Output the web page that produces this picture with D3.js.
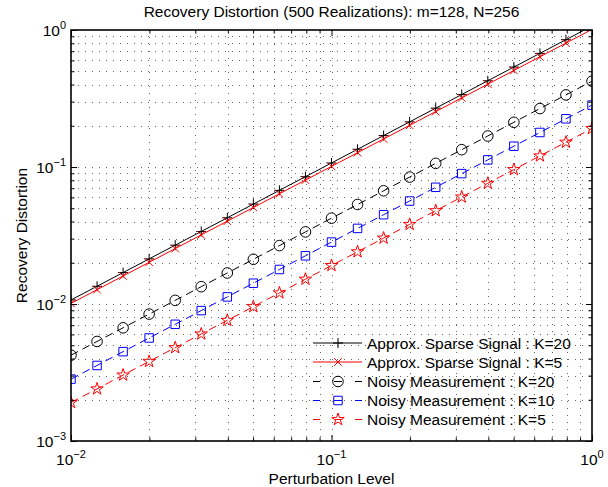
<!DOCTYPE html>
<html><head><meta charset="utf-8">
<script src="https://cdn.jsdelivr.net/npm/d3@7"></script>
<style>
body{margin:0;background:#fff;}
text{font-family:"Liberation Sans",Arial,Helvetica,sans-serif;fill:#000;}
</style></head>
<body><svg id="c" width="608" height="487"></svg>
<script>
// ---- data ----
const perturbation = [0.0100,0.01259,0.01585,0.01995,0.02512,0.03162,0.03981,0.05012,0.06310,0.07943,
  0.1000,0.1259,0.1585,0.1995,0.2512,0.3162,0.3981,0.5012,0.6310,0.7943,1.000];
const approxK20 = [0.0107,0.01347,0.01696,0.02135,0.02688,0.03383,0.0426,0.05363,0.06752,0.08499,
  0.107,0.1347,0.1696,0.2135,0.2688,0.3383,0.426,0.5363,0.6752,0.8499,1.07];
const approxK5 = [0.0101,0.01272,0.01601,0.02015,0.02537,0.03194,0.04021,0.05062,0.06373,0.08022,
  0.101,0.1272,0.1601,0.2015,0.2537,0.3194,0.4021,0.5062,0.6373,0.8022,1.01];
const noisyK20 = [0.00423,0.00533,0.00670,0.00844,0.01063,0.01338,0.01684,0.0212,0.02669,0.0336,
  0.0423,0.05326,0.06705,0.08439,0.1063,0.1338,0.1684,0.2120,0.2669,0.336,0.423];
const noisyK10 = [0.00283,0.00356,0.00449,0.00565,0.00711,0.00895,0.01127,0.01418,0.01786,0.02248,
  0.0283,0.03563,0.04486,0.05646,0.07109,0.08948,0.1127,0.1418,0.1786,0.2248,0.283];
const noisyK5 = [0.00191,0.0024,0.00303,0.00381,0.0048,0.00604,0.0076,0.00957,0.01205,0.01517,
  0.0191,0.02405,0.03027,0.03811,0.04798,0.0604,0.07604,0.09573,0.1205,0.1517,0.191];
const seriesNames = ["Approx. Sparse Signal : K=20","Approx. Sparse Signal : K=5",
  "Noisy Measurement : K=20","Noisy Measurement : K=10","Noisy Measurement : K=5"];
const xTickValues = [0.01, 0.1, 1];
const xTickExponents = ["\u22122","\u22121","0"];
const yTickValues = [0.001, 0.01, 0.1, 1];
const yTickExponents = ["\u22123","\u22122","\u22121","0"];
const titleText = "Recovery Distortion (500 Realizations): m=128, N=256";
const xLabelText = "Perturbation Level";
const yLabelText = "Recovery Distortion";

// ---- layout ----
const L = 71, R = 592, T = 30, B = 441;
const svg = d3.select("#c");
const x = d3.scaleLog().domain([0.01, 1]).range([L, R]);
const y = d3.scaleLog().domain([0.001, 1]).range([B, T]);

const series = [
  {name: seriesNames[0], values: approxK20, color: "#000", dash: null, marker: "plus"},
  {name: seriesNames[1], values: approxK5, color: "#f00", dash: null, marker: "x"},
  {name: seriesNames[2], values: noisyK20, color: "#000", dash: "8,5", marker: "circle"},
  {name: seriesNames[3], values: noisyK10, color: "#00f", dash: "8,5", marker: "square"},
  {name: seriesNames[4], values: noisyK5, color: "#f00", dash: "8,5", marker: "star"}
];

svg.append("rect").attr("x",0).attr("y",0).attr("width",608).attr("height",487).attr("fill","#fff");
svg.append("defs").append("clipPath").attr("id","clip")
  .append("rect").attr("x",L).attr("y",T).attr("width",R-L).attr("height",B-T);

// ---- grid ----
const xGrid = x.ticks().filter(v => v > 0.01 && v < 1);
const yGrid = y.ticks().filter(v => v > 0.001 && v < 1);
const grid = svg.append("g").attr("stroke","#666").attr("stroke-width",1).attr("stroke-dasharray","1,6");
grid.selectAll(".gx").data(xGrid).join("line")
  .attr("x1", d => Math.round(x(d))+0.5).attr("x2", d => Math.round(x(d))+0.5)
  .attr("y1", T).attr("y2", B);
grid.selectAll(".gy").data(yGrid).join("line")
  .attr("y1", d => Math.round(y(d))+0.5).attr("y2", d => Math.round(y(d))+0.5)
  .attr("x1", L).attr("x2", R);

// ---- markers ----
function markerPath(type){
  switch(type){
    case "plus": { const a = 5; return `M${-a},0H${a}M0,${-a}V${a}`; }
    case "x": { const a = 3.8; return `M${-a},${-a}L${a},${a}M${-a},${a}L${a},${-a}`; }
    case "circle": return d3.symbol(d3.symbolCircle, 88)();
    case "square": return d3.symbol(d3.symbolSquare, 72)();
    case "star": return d3.symbol(d3.symbolStar, 48)();
  }
}

// ---- lines ----
const plot = svg.append("g").attr("clip-path","url(#clip)");
const line = d3.line().x((d,i) => x(perturbation[i])).y(d => y(d));
series.forEach(s => {
  plot.append("path").datum(s.values).attr("d", line)
    .attr("fill","none").attr("stroke", s.color).attr("stroke-width",1)
    .attr("stroke-dasharray", s.dash);
  plot.append("g").selectAll("path").data(s.values.map((v,i)=>[perturbation[i], v]).filter(d => d[1] <= 1))
    .join("path")
    .attr("transform", d => `translate(${x(d[0])},${y(d[1])})`)
    .attr("d", markerPath(s.marker))
    .attr("fill","none").attr("stroke", s.color).attr("stroke-width",1);
});

// ---- axes (ticks inward on all sides) ----
const xMinor = x.ticks().filter(v => !xTickValues.includes(v));
const yMinor = y.ticks().filter(v => !yTickValues.includes(v));
function styleAxis(g){
  g.select(".domain").remove();
  g.selectAll(".tick line").attr("stroke","#000").attr("stroke-width",1);
  g.selectAll(".tick text").remove();
}
svg.append("g").attr("transform",`translate(0,${B})`).call(d3.axisBottom(x).tickValues(xTickValues).tickSize(-6).tickFormat("")).call(styleAxis);
svg.append("g").attr("transform",`translate(0,${B})`).call(d3.axisBottom(x).tickValues(xMinor).tickSize(-3.5).tickFormat("")).call(styleAxis);
svg.append("g").attr("transform",`translate(0,${T})`).call(d3.axisTop(x).tickValues(xTickValues).tickSize(-6).tickFormat("")).call(styleAxis);
svg.append("g").attr("transform",`translate(0,${T})`).call(d3.axisTop(x).tickValues(xMinor).tickSize(-3.5).tickFormat("")).call(styleAxis);
svg.append("g").attr("transform",`translate(${L},0)`).call(d3.axisLeft(y).tickValues(yTickValues).tickSize(-6).tickFormat("")).call(styleAxis);
svg.append("g").attr("transform",`translate(${L},0)`).call(d3.axisLeft(y).tickValues(yMinor).tickSize(-3.5).tickFormat("")).call(styleAxis);
svg.append("g").attr("transform",`translate(${R},0)`).call(d3.axisRight(y).tickValues(yTickValues).tickSize(-6).tickFormat("")).call(styleAxis);
svg.append("g").attr("transform",`translate(${R},0)`).call(d3.axisRight(y).tickValues(yMinor).tickSize(-3.5).tickFormat("")).call(styleAxis);

svg.append("rect").attr("x",L).attr("y",T).attr("width",R-L).attr("height",B-T)
  .attr("fill","none").attr("stroke","#000").attr("stroke-width",1.6);

// ---- tick labels ----
const FS = 15.5;
xTickValues.forEach((v,i) => {
  const t = svg.append("text").attr("x", x(v)).attr("y", 465).attr("text-anchor","middle").attr("font-size",FS);
  t.append("tspan").text("10");
  t.append("tspan").attr("dy",-7).attr("font-size",11).text(xTickExponents[i]);
});
yTickValues.forEach((v,i) => {
  const t = svg.append("text").attr("x", 66).attr("y", y(v)+5.5).attr("text-anchor","end").attr("font-size",FS);
  t.append("tspan").text("10");
  t.append("tspan").attr("dy",-7).attr("font-size",11).text(yTickExponents[i]);
});

// ---- titles ----
svg.append("text").attr("x",(L+R)/2).attr("y",17).attr("text-anchor","middle").attr("font-size",FS).text(titleText);
svg.append("text").attr("x",(L+R)/2).attr("y",484).attr("text-anchor","middle").attr("font-size",FS).text(xLabelText);
svg.append("text").attr("transform",`translate(27,${(T+B)/2}) rotate(-90)`).attr("text-anchor","middle").attr("font-size",FS).text(yLabelText);

// ---- legend ----
const legY = [343, 362, 381.5, 400.5, 419.5];
const lx0 = 313, lx1 = 362, lxm = 338, ltx = 367;
series.forEach((s,i) => {
  const g = svg.append("g");
  g.append("line").attr("x1",lx0).attr("x2",lx1).attr("y1",legY[i]).attr("y2",legY[i])
    .attr("stroke", s.color).attr("stroke-width",1)
    .attr("stroke-dasharray", s.dash ? "7,14,8,13,7" : null);
  g.append("path").attr("transform",`translate(${lxm},${legY[i]})`).attr("d", markerPath(s.marker))
    .attr("fill","none").attr("stroke", s.color).attr("stroke-width",1);
  g.append("text").attr("x",ltx).attr("y",legY[i]+5.5).attr("font-size",FS).text(s.name);
});
</script></body></html>
